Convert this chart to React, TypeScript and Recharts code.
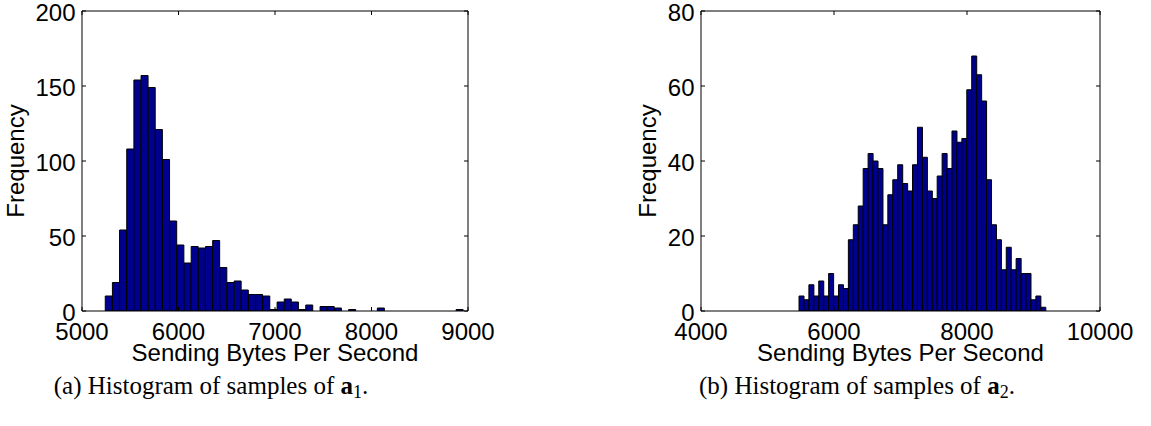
import { BarChart, Bar, XAxis, YAxis } from 'recharts';

// histogram (a): samples of a1
const binStartA = 5241;
const binWidthA = 74.2;
const countsA = [
  10, 19, 54, 108, 154, 157, 149, 121, 101, 60,
  44, 32, 43, 42, 43, 47, 29, 19, 20, 14,
  11, 11, 10, 1, 6, 8, 6, 1, 4, 0,
  3, 3, 2, 0, 1, 0, 0, 0, 2, 0,
  0, 0, 0, 0, 0, 0, 0, 0, 0, 1,
];
const xTicksA = [5000, 6000, 7000, 8000, 9000];
const yTicksA = [0, 50, 100, 150, 200];

// histogram (b): samples of a2
const binStartB = 5474;
const binWidthB = 74.2;
const countsB = [
  4, 3, 7, 4, 8, 4, 10, 4, 7, 6,
  19, 23, 28, 38, 42, 40, 38, 23, 31, 35,
  39, 34, 32, 39, 49, 41, 32, 30, 36, 42,
  38, 48, 45, 46, 59, 68, 63, 56, 35, 23,
  19, 11, 17, 11, 14, 10, 10, 3, 4, 1,
];
const xTicksB = [4000, 6000, 8000, 10000];
const yTicksB = [0, 20, 40, 60, 80];

const sans = '"Liberation Sans", Arial, Helvetica, sans-serif';
const serif = '"Liberation Serif", "Times New Roman", serif';

interface HistProps {
  counts: number[];
  binStart: number;
  binWidth: number;
  xTicks: number[];
  yTicks: number[];
  left: number;
  width: number;
  yAxisWidth: number;
  marginRight: number;
  yLabelX: number;
}

function Histogram(p: HistProps) {
  const data = p.counts.map((count, i) => ({ bin: p.binStart + (i + 0.5) * p.binWidth, count }));
  const xDomain = [p.xTicks[0], p.xTicks[p.xTicks.length - 1]];
  const yDomain = [p.yTicks[0], p.yTicks[p.yTicks.length - 1]];
  const tickStyle = { fill: '#000', fontSize: 24, fontFamily: sans };
  const blank = () => '';

  return (
    <div style={{ position: 'absolute', left: p.left, top: 0 }}>
      <BarChart
        width={p.width}
        height={370}
        data={data}
        margin={{ top: 11, right: p.marginRight, bottom: 0, left: 0 }}
        barCategoryGap={0}
        barGap={0}
      >
        <XAxis
          xAxisId="b"
          dataKey="bin"
          type="number"
          domain={xDomain}
          ticks={p.xTicks}
          interval={0}
          allowDataOverflow
          height={59}
          axisLine={{ stroke: '#000' }}
          tickLine={{ stroke: '#000' }}
          tickSize={-4}
          tickMargin={16}
          tick={tickStyle}
          label={(props: any) => {
            const vb = props.viewBox || {};
            return (
              <text x={vb.x + vb.width / 2} y={360.5} textAnchor="middle" fontSize={24} fontFamily={sans} fill="#000">
                Sending Bytes Per Second
              </text>
            );
          }}
        />
        <XAxis
          xAxisId="t"
          dataKey="bin"
          orientation="top"
          mirror
          type="number"
          domain={xDomain}
          ticks={p.xTicks}
          interval={0}
          allowDataOverflow
          axisLine={{ stroke: '#000' }}
          tickLine={{ stroke: '#000' }}
          tickSize={4}
          tickFormatter={blank}
        />
        <YAxis
          yAxisId="l"
          type="number"
          domain={yDomain}
          ticks={p.yTicks}
          interval={0}
          allowDataOverflow
          width={p.yAxisWidth}
          axisLine={{ stroke: '#000' }}
          tickLine={{ stroke: '#000' }}
          tickSize={-4}
          tickMargin={10.5}
          tick={{ ...tickStyle, dy: 1 }}
          label={(props: any) => {
            const vb = props.viewBox || {};
            const cy = vb.y + vb.height / 2;
            return (
              <text
                x={p.yLabelX}
                y={cy}
                transform={`rotate(-90, ${p.yLabelX}, ${cy})`}
                textAnchor="middle"
                fontSize={24}
                fontFamily={sans}
                fill="#000"
              >
                Frequency
              </text>
            );
          }}
        />
        <YAxis
          yAxisId="r"
          orientation="right"
          mirror
          type="number"
          domain={yDomain}
          ticks={p.yTicks}
          interval={0}
          allowDataOverflow
          axisLine={{ stroke: '#000' }}
          tickLine={{ stroke: '#000' }}
          tickSize={4}
          tickFormatter={blank}
        />
        <Bar
          xAxisId="b"
          yAxisId="l"
          dataKey="count"
          fill="#00008F"
          stroke="#000"
          strokeWidth={1}
          isAnimationActive={false}
        />
      </BarChart>
    </div>
  );
}

const captionStyle = {
  position: 'absolute' as const,
  top: 373,
  fontFamily: serif,
  fontSize: 25,
  lineHeight: '25px',
  color: '#000',
  textAlign: 'center' as const,
  whiteSpace: 'nowrap' as const,
};
const subStyle = { fontSize: 18, verticalAlign: '-4px', lineHeight: 0 };

export default function App() {
  return (
    <div style={{ position: 'absolute', left: 0, top: 0, width: 1151, height: 426, background: '#fff', overflow: 'hidden' }}>
      <Histogram
        counts={countsA}
        binStart={binStartA}
        binWidth={binWidthA}
        xTicks={xTicksA}
        yTicks={yTicksA}
        left={0}
        width={520}
        yAxisWidth={82}
        marginRight={52}
        yLabelX={24}
      />
      <Histogram
        counts={countsB}
        binStart={binStartB}
        binWidth={binWidthB}
        xTicks={xTicksB}
        yTicks={yTicksB}
        left={560}
        width={591}
        yAxisWidth={141}
        marginRight={51}
        yLabelX={96}
      />
      <div style={{ ...captionStyle, left: 0, width: 422 }}>
        (a) Histogram of samples of <b>a</b><sub style={subStyle}>1</sub>.
      </div>
      <div style={{ ...captionStyle, left: 657, width: 400 }}>
        (b) Histogram of samples of <b>a</b><sub style={subStyle}>2</sub>.
      </div>
    </div>
  );
}
